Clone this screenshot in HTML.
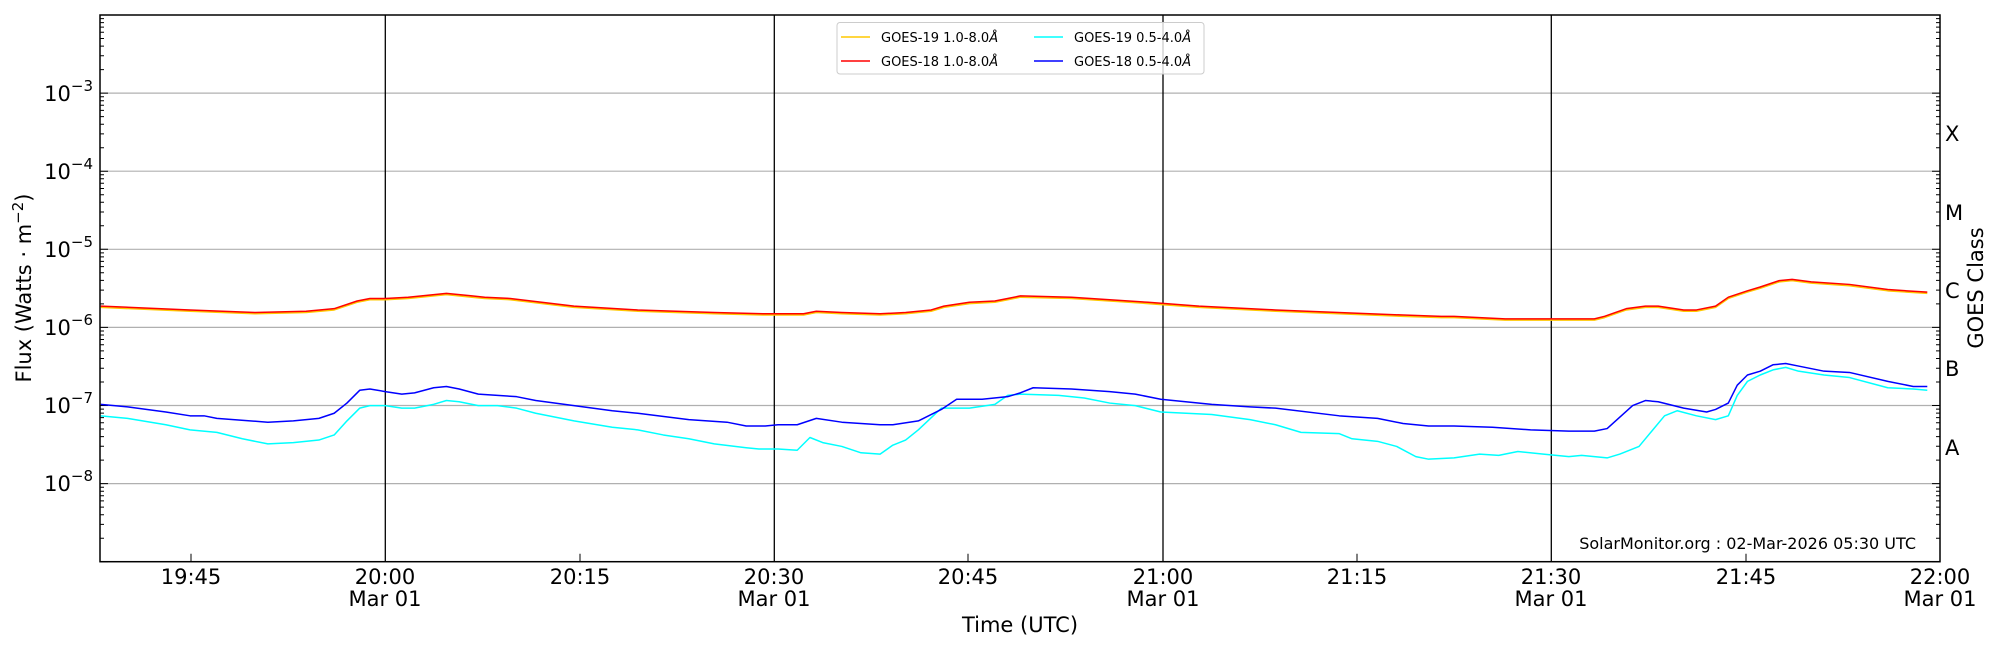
<!DOCTYPE html>
<html><head><meta charset="utf-8"><style>
html,body{margin:0;padding:0;background:#fff}
svg{display:block;font-family:"DejaVu Sans","Liberation Sans",sans-serif}
</style></head><body>
<svg width="2000" height="650" viewBox="0 0 2000 650" xmlns="http://www.w3.org/2000/svg">
<defs>
<g id="dec" stroke="#000" stroke-width="1">
<path d="M100 0h8M100 -23.5h4M100 -37.3h4M100 -47h4M100 -54.6h4M100 -60.8h4M100 -66h4M100 -70.5h4M100 -74.5h4"/>
<path d="M1940 0h-8M1940 -23.5h-4M1940 -37.3h-4M1940 -47h-4M1940 -54.6h-4M1940 -60.8h-4M1940 -66h-4M1940 -70.5h-4M1940 -74.5h-4"/>
</g>
</defs>
<rect width="2000" height="650" fill="#fff"/>
<g stroke="#b0b0b0" stroke-width="1.2">
<line x1="100" x2="1940" y1="93.1" y2="93.1"/><line x1="100" x2="1940" y1="171.2" y2="171.2"/>
<line x1="100" x2="1940" y1="249.3" y2="249.3"/><line x1="100" x2="1940" y1="327.4" y2="327.4"/>
<line x1="100" x2="1940" y1="405.5" y2="405.5"/><line x1="100" x2="1940" y1="483.6" y2="483.6"/>
</g>
<g stroke="#000" stroke-width="1.3">
<line x1="385.3" x2="385.3" y1="15" y2="561.7"/><line x1="774.3" x2="774.3" y1="15" y2="561.7"/>
<line x1="1163" x2="1163" y1="15" y2="561.7"/><line x1="1551.3" x2="1551.3" y1="15" y2="561.7"/>
</g>
<use href="#dec" y="93.1"/><use href="#dec" y="171.2"/><use href="#dec" y="249.3"/>
<use href="#dec" y="327.4"/><use href="#dec" y="405.5"/><use href="#dec" y="483.6"/><use href="#dec" y="561.7"/>
<path d="M191 561.7v-8M580 561.7v-8M968 561.7v-8M1357 561.7v-8M1746 561.7v-8" stroke="#000" stroke-width="1"/>
<g transform="scale(1.27551)" fill="none" stroke-width="1.5" stroke-linejoin="round">
<polyline stroke="#ffc800" vector-effect="non-scaling-stroke" points="79,241 149,244 200,246 240,245 262,243 280,237 290,235 302,235 320,234 350,231 370,233 380,234 400,235 450,241 500,244 560,246 600,247 630,247 640,245 660,246 690,247 710,246 730,244 740,241 760,238 780,237 790,235 800,233 840,234 870,236 900,238 940,241 1000,244 1100,248 1130,249 1140,249 1180,251 1250,251 1258,249 1275,243 1290,241 1300,241 1320,244 1330,244 1345,241 1355,234 1370,229 1380,226 1395,221 1405,220 1420,222 1450,224 1480,228 1495,229 1511,230"/>
<polyline stroke="#ff0000" vector-effect="non-scaling-stroke" points="79,240 149,243 200,245 240,244 262,242 280,236 290,234 302,234 320,233 350,230 370,232 380,233 400,234 450,240 500,243 560,245 600,246 630,246 640,244 660,245 690,246 710,245 730,243 740,240 760,237 780,236 790,234 800,232 840,233 870,235 900,237 940,240 1000,243 1100,247 1130,248 1140,248 1180,250 1250,250 1258,248 1275,242 1290,240 1300,240 1320,243 1330,243 1345,240 1355,233 1370,228 1380,225 1395,220 1405,219 1420,221 1450,223 1480,227 1495,228 1511,229"/>
<polyline stroke="#00ffff" vector-effect="non-scaling-stroke" points="79,326 100,328 130,333 149,337 170,339 190,344 210,348 230,347 250,345 262,341 272,330 282,320 290,318 302,318 315,320 325,320 340,317 350,314 360,315 375,318 390,318 405,320 420,324 450,330 480,335 500,337 520,341 540,344 560,348 585,351 595,352 610,352 625,353 635,343 645,347 660,350 675,355 690,356 700,349 710,345 720,337 738,320 760,320 780,317 790,310 800,309 830,310 850,312 870,316 890,318 910,323 950,325 980,329 1000,333 1020,339 1050,340 1060,344 1080,346 1095,350 1110,358 1120,360 1140,359 1160,356 1175,357 1190,354 1210,356 1230,358 1240,357 1260,359 1270,356 1285,350 1295,338 1305,326 1315,322 1330,326 1345,329 1355,326 1362,310 1370,299 1380,294 1390,290 1400,288 1410,291 1430,294 1450,296 1480,304 1500,305 1511,306"/>
<polyline stroke="#0000ff" vector-effect="non-scaling-stroke" points="79,317 100,319 130,323 149,326 160,326 170,328 210,331 230,330 250,328 262,324 272,316 282,306 290,305 302,307 315,309 325,308 340,304 350,303 360,305 375,309 390,310 405,311 420,314 450,318 480,322 500,324 540,329 570,331 585,334 600,334 610,333 625,333 640,328 660,331 690,333 700,333 720,330 738,321 750,313 770,313 790,311 800,308 810,304 840,305 870,307 890,309 910,313 950,317 980,319 1000,320 1050,326 1080,328 1100,332 1120,334 1140,334 1170,335 1200,337 1230,338 1250,338 1260,336 1270,327 1280,318 1290,314 1300,315 1320,320 1338,323 1345,321 1355,316 1362,302 1370,294 1380,291 1390,286 1400,285 1410,287 1430,291 1450,292 1480,299 1500,303 1511,303"/>
</g>
<rect x="100" y="15" width="1840" height="546.7" fill="none" stroke="#000" stroke-width="1.5"/>
<g font-size="21" text-anchor="end" fill="#000">
<text x="93" y="101">10<tspan dy="-10" font-size="15">−3</tspan></text>
<text x="93" y="179">10<tspan dy="-10" font-size="15">−4</tspan></text>
<text x="93" y="257">10<tspan dy="-10" font-size="15">−5</tspan></text>
<text x="93" y="335">10<tspan dy="-10" font-size="15">−6</tspan></text>
<text x="93" y="413">10<tspan dy="-10" font-size="15">−7</tspan></text>
<text x="93" y="491">10<tspan dy="-10" font-size="15">−8</tspan></text>
</g>
<g font-size="21" fill="#000">
<text x="1945" y="141">X</text><text x="1945" y="220">M</text><text x="1945" y="298">C</text>
<text x="1945" y="376">B</text><text x="1945" y="455">A</text>
</g>
<g font-size="21" text-anchor="middle" fill="#000">
<text x="191" y="584">19:45</text>
<text x="385" y="584">20:00</text><text x="385" y="606">Mar 01</text>
<text x="580" y="584">20:15</text>
<text x="774" y="584">20:30</text><text x="774" y="606">Mar 01</text>
<text x="968" y="584">20:45</text>
<text x="1163" y="584">21:00</text><text x="1163" y="606">Mar 01</text>
<text x="1357" y="584">21:15</text>
<text x="1551" y="584">21:30</text><text x="1551" y="606">Mar 01</text>
<text x="1746" y="584">21:45</text>
<text x="1940" y="584">22:00</text><text x="1940" y="606">Mar 01</text>
<text x="1020" y="632">Time (UTC)</text>
<text transform="translate(31,288) rotate(-90)">Flux (Watts · m<tspan dy="-8" font-size="15">−2</tspan><tspan dy="8">)</tspan></text>
<text transform="translate(1983,288) rotate(-90)">GOES Class</text>
</g>
<text x="1916" y="549" font-size="16" text-anchor="end" fill="#000">SolarMonitor.org : 02-Mar-2026 05:30 UTC</text>
<rect x="837" y="22.5" width="367" height="51.5" rx="3" fill="#fff" fill-opacity="0.8" stroke="#ccc"/>
<g stroke-width="1.5">
<line x1="841" x2="870" y1="37" y2="37" stroke="#ffc800"/>
<line x1="841" x2="870" y1="61" y2="61" stroke="#ff0000"/>
<line x1="1034" x2="1063" y1="37" y2="37" stroke="#00ffff"/>
<line x1="1034" x2="1063" y1="61" y2="61" stroke="#0000ff"/>
</g>
<g font-size="13" fill="#000">
<text x="881" y="42">GOES-19 1.0-8.0<tspan font-style="italic">Å</tspan></text>
<text x="881" y="66">GOES-18 1.0-8.0<tspan font-style="italic">Å</tspan></text>
<text x="1074" y="42">GOES-19 0.5-4.0<tspan font-style="italic">Å</tspan></text>
<text x="1074" y="66">GOES-18 0.5-4.0<tspan font-style="italic">Å</tspan></text>
</g>
</svg>
</body></html>
